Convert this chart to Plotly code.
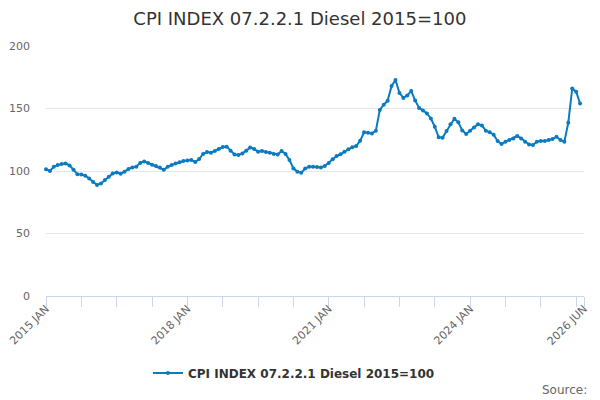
import plotly.graph_objects as go

# monthly CPI index, Diesel (2015=100), 2015 JAN .. 2026 MAY
months = ["JAN", "FEB", "MAR", "APR", "MAY", "JUN", "JUL", "AUG", "SEP", "OCT", "NOV", "DEC"]
start_year = 2015

cpi_values = [
    101.4, 100.0, 103.5, 104.8, 105.6, 106.1, 104.5, 101.0, 97.5, 97.2, 96.3, 94.0,
    91.2, 88.8, 90.0, 92.8, 95.5, 98.0, 98.9, 97.8, 99.5, 101.6, 102.9, 103.5,
    106.5, 107.7, 106.4, 105.1, 104.0, 102.9, 101.0, 103.5, 104.8, 106.0, 107.0, 108.0,
    108.5, 108.8, 107.2, 109.6, 113.6, 115.2, 114.7, 116.0, 117.6, 119.2, 119.5, 116.3,
    113.3, 112.8, 114.1, 116.3, 118.9, 117.6, 115.5, 116.0, 115.2, 114.7, 113.6, 113.3,
    116.0, 113.6, 108.8, 102.1, 99.5, 98.7, 102.0, 103.5, 103.5, 103.3, 102.8, 104.0,
    106.5, 109.5, 112.0, 113.5, 115.5, 117.5, 119.0, 120.0, 124.3, 131.0, 130.7, 130.1,
    132.3, 148.8, 153.0, 156.3, 168.0, 172.8, 162.5, 158.5, 160.5, 164.0, 156.5, 150.5,
    148.5, 146.0, 142.0, 135.5, 127.0, 126.7, 132.0, 137.5, 141.8, 139.0, 132.5, 129.6,
    132.3, 134.9, 137.5, 136.5, 132.3, 131.0, 129.0, 124.0, 121.6, 123.5, 124.8, 126.1,
    128.0, 126.1, 123.5, 121.3, 120.8, 123.5, 124.0, 124.0, 124.8, 125.6, 127.5, 124.8,
    123.5, 138.7, 166.0, 163.5, 154.0,
]

# axis ticks every 9 months, labels every 3 years, plus the last month
tick_positions = list(range(0, 136, 9)) + [137]
labelled = {0: "2015 JAN", 36: "2018 JAN", 72: "2021 JAN", 108: "2024 JAN", 137: "2026 JUN"}
tick_labels = [labelled.get(t, "") for t in tick_positions]
y_ticks = [0, 50, 100, 150, 200]

series_name = "CPI INDEX 07.2.2.1 Diesel 2015=100"
line_color = "#0a7bc2"

x_idx = list(range(len(cpi_values)))
hover = [f"{start_year + i // 12} {months[i % 12]}" for i in x_idx]

fig = go.Figure()
fig.add_trace(go.Scatter(
    x=x_idx, y=cpi_values, name=series_name, mode="lines+markers",
    line=dict(color=line_color, width=2),
    marker=dict(color=line_color, size=4),
    text=hover, hovertemplate="%{text}: %{y}<extra></extra>",
    cliponaxis=False,
))

# the page body has an 8px margin, so the figure is 8px smaller and everything shifted by 8px
fig.update_layout(
    width=592, height=392,
    paper_bgcolor="white", plot_bgcolor="white",
    font=dict(family="DejaVu Sans", color="#666666", size=11),
    margin=dict(l=38, r=16, t=38, b=104, autoexpand=False),
    title=dict(text=series_name, x=0.493, xanchor="center", y=0.974, yanchor="middle",
               font=dict(size=18, color="#333333")),
    showlegend=True,
    legend=dict(orientation="h", xref="container", x=0.483, xanchor="center",
                y=-0.308, yanchor="middle",
                font=dict(size=12, color="#333333", weight="bold")),
    xaxis=dict(
        range=[0, 137], tickmode="array", tickvals=tick_positions, ticktext=tick_labels,
        tickangle=-45, ticks="outside", ticklen=10, tickcolor="#ccd6eb",
        showline=True, linecolor="#ccd6eb", showgrid=False, zeroline=False,
        automargin=False, ticklabeloverflow="allow", ticklabelstandoff=-9,
        tickfont=dict(size=11, color="#666666"),
    ),
    yaxis=dict(
        range=[0, 200], tickvals=y_ticks, showgrid=True, gridcolor="#e6e6e6",
        zeroline=False, showline=False, ticks="", ticklabelstandoff=15,
        automargin=False, tickfont=dict(size=11, color="#666666"),
    ),
    annotations=[dict(text="Source:", xref="paper", yref="paper", x=1.01, y=-0.376,
                      xanchor="right", yanchor="middle", showarrow=False,
                      font=dict(size=12, color="#666666"))],
)

fig.write_html("out.html")
